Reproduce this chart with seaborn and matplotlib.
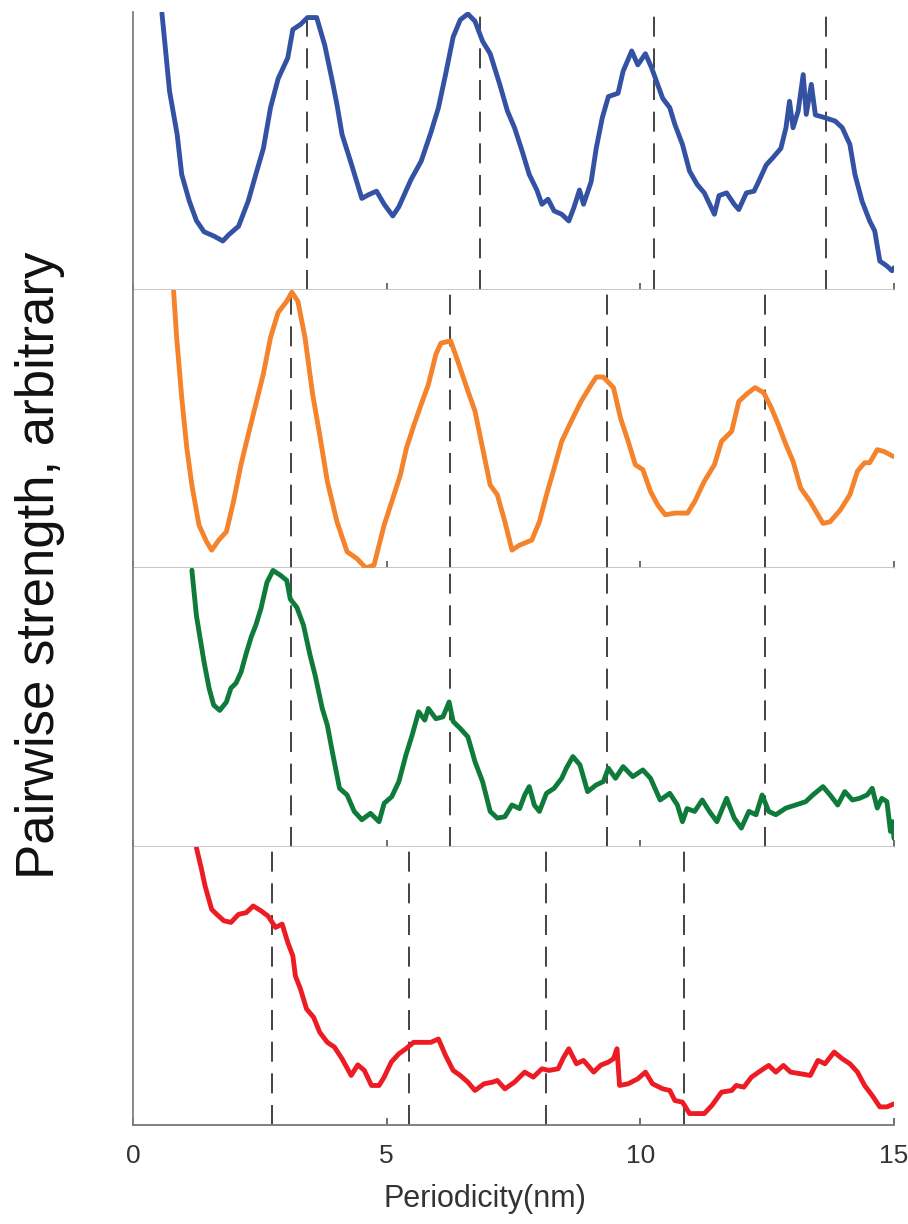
import matplotlib
matplotlib.use("Agg")
import matplotlib.pyplot as plt
import seaborn as sns
import pandas as pd

# --- Data (y in arbitrary units, 0-100 per panel) ---
blue_x = [0.57, 0.72, 0.87, 0.96, 1.11, 1.25, 1.40, 1.59, 1.77, 1.89, 2.08, 2.27, 2.42, 2.57,
          2.71, 2.86, 3.05, 3.15, 3.30, 3.44, 3.62, 3.78, 3.93, 4.02, 4.12, 4.31, 4.51, 4.65,
          4.80, 4.95, 5.12, 5.24, 5.48, 5.68, 5.87, 6.02, 6.16, 6.31, 6.45, 6.60, 6.74, 6.89,
          7.04, 7.23, 7.38, 7.52, 7.67, 7.81, 7.96, 8.06, 8.18, 8.30, 8.45, 8.59, 8.69, 8.80,
          8.88, 9.03, 9.13, 9.25, 9.37, 9.56, 9.66, 9.83, 9.95, 10.10, 10.22, 10.34, 10.44,
          10.58, 10.68, 10.83, 10.97, 11.12, 11.26, 11.46, 11.55, 11.70, 11.85, 11.94, 12.09,
          12.24, 12.33, 12.48, 12.62, 12.77, 12.87, 12.94, 13.01, 13.11, 13.21, 13.27, 13.37,
          13.45, 13.64, 13.84, 13.98, 14.13, 14.23, 14.37, 14.52, 14.62, 14.72, 14.86, 14.96, 15.0]
blue_y = [99.6, 71.5, 56, 41.6, 32, 25, 21, 19.5, 17.7, 20, 23, 32, 41.6, 51,
          65.6, 76, 83.5, 93.7, 95.5, 98, 98, 88, 75, 66.7, 56, 45, 33, 34.4,
          35.6, 30.9, 26.7, 30, 39.8, 46.4, 56.6, 65.6, 77.5, 91, 97.2, 99.3, 96.7, 89.5,
          85, 73.9, 64.4, 58.4, 50, 41.6, 36, 30.9, 32.7, 28.5, 27.3, 24.9, 29.7, 36,
          30.9, 39, 51, 62, 69.6, 70.8, 78.7, 86, 81, 85, 80, 74, 69,
          65.6, 59.6, 52.4, 42.8, 38, 35, 27.3, 34, 35, 30.9, 29, 35,
          35.6, 39, 45, 47.8, 51, 58.4, 67.9, 58.4, 64.4, 77.5, 63.2, 74,
          63, 62, 60.8, 58.4, 52.4, 41.6, 32, 24.9, 21.3, 10.5, 8.7, 7, 8.1]

orange_x = [0.80, 0.86, 0.96, 1.06, 1.16, 1.30, 1.45, 1.55, 1.69, 1.84, 1.98, 2.13, 2.27, 2.42,
            2.57, 2.71, 2.86, 3.03, 3.13, 3.25, 3.39, 3.54, 3.68, 3.83, 4.02, 4.22, 4.41, 4.59,
            4.75, 4.95, 5.10, 5.27, 5.39, 5.54, 5.68, 5.82, 5.97, 6.07, 6.26, 6.40, 6.60, 6.74,
            6.89, 7.04, 7.18, 7.33, 7.47, 7.62, 7.86, 8.01, 8.15, 8.30, 8.45, 8.64, 8.83, 9.03,
            9.13, 9.27, 9.47, 9.61, 9.76, 9.90, 10.05, 10.20, 10.34, 10.49, 10.68, 10.93, 11.07,
            11.26, 11.46, 11.60, 11.80, 11.94, 12.09, 12.26, 12.43, 12.58, 12.72, 12.87, 13.01,
            13.16, 13.35, 13.50, 13.60, 13.74, 13.94, 14.13, 14.28, 14.42, 14.52, 14.67, 14.81, 14.98]
orange_y = [99.6, 83, 61.4, 43.3, 30, 15.6, 9.6, 6.6, 10.2, 13.2, 24, 37.5, 48, 59,
            70, 83, 92, 96, 99.3, 96, 83, 62.6, 48, 31.3, 16.8, 6, 3.6, 0.2,
            1.2, 15.6, 24, 33.7, 43.3, 51.7, 59, 66, 77, 81, 81.8, 74.6, 63.8, 56.6,
            43.3, 30, 26.5, 16.8, 6.6, 8.4, 10.2, 16.8, 26.5, 36, 45.7, 53, 60, 66,
            68.8, 68.8, 65, 54, 45.7, 37.3, 35.5, 27.7, 22.9, 19.3, 19.9, 19.9, 24,
            31.3, 37.3, 45.7, 49.3, 60, 62.6, 65, 63.2, 57.8, 51.7, 44.5, 38.5,
            28.9, 24, 19.3, 16.2, 16.8, 21, 26.5, 35, 38, 38, 42.7, 42, 40.3]

green_x = [1.16, 1.25, 1.40, 1.50, 1.59, 1.71, 1.84, 1.93, 2.03, 2.13, 2.23, 2.33, 2.42, 2.52,
           2.64, 2.76, 2.91, 3.03, 3.10, 3.23, 3.36, 3.49, 3.59, 3.73, 3.83, 3.93, 4.07, 4.22,
           4.36, 4.51, 4.68, 4.85, 4.95, 5.10, 5.24, 5.38, 5.50, 5.63, 5.75, 5.82, 5.97, 6.11,
           6.23, 6.31, 6.45, 6.60, 6.74, 6.89, 7.04, 7.18, 7.33, 7.47, 7.62, 7.72, 7.81, 7.91,
           8.01, 8.15, 8.30, 8.45, 8.54, 8.67, 8.81, 8.96, 9.13, 9.27, 9.37, 9.51, 9.66, 9.85,
           10.05, 10.20, 10.39, 10.58, 10.73, 10.83, 10.92, 11.07, 11.22, 11.36, 11.51, 11.70,
           11.85, 11.99, 12.14, 12.28, 12.40, 12.53, 12.67, 12.87, 13.06, 13.26, 13.40, 13.60,
           13.74, 13.89, 14.03, 14.18, 14.32, 14.47, 14.57, 14.67, 14.76, 14.86, 14.93, 14.97, 15.0]
green_y = [99.4, 83, 66.4, 56.9, 50.9, 49, 52, 57, 58.8, 62.8, 69.4, 75.4, 79.6, 85.5,
           95, 99.3, 97.5, 95.7, 89, 86, 79.6, 68.8, 61.6, 49.7, 43.7, 34, 21, 18.6,
           12.7, 9.7, 12, 9, 15.6, 18, 23.4, 33, 40, 48.5, 45.5, 49.7, 46, 46.7,
           52, 45, 42.5, 39.5, 30.6, 23.4, 12.7, 10.3, 10.8, 15, 13.7, 18.6, 21.6, 15,
           12.7, 19.2, 21, 24.6, 28.2, 32.4, 29.4, 19.8, 22.2, 23.4, 28.2, 24.6, 28.8, 25.2,
           27.6, 24.6, 16.8, 19.2, 15, 9, 13.7, 12.7, 16.8, 12.7, 9, 17.4,
           10.3, 6.7, 12.7, 11.5, 18.6, 12.7, 11.5, 13.9, 15, 16.2, 18.6, 21.6,
           18.6, 15, 19.8, 16.8, 17.4, 18.6, 21, 13.9, 17.4, 16.2, 5.5, 9, 3]

red_x = [1.25, 1.35, 1.42, 1.55, 1.65, 1.79, 1.93, 2.08, 2.23, 2.37, 2.52, 2.66, 2.81, 2.94,
         3.05, 3.15, 3.20, 3.30, 3.42, 3.56, 3.68, 3.83, 3.97, 4.12, 4.30, 4.43, 4.56, 4.70,
         4.85, 4.95, 5.09, 5.24, 5.38, 5.53, 5.68, 5.87, 6.02, 6.16, 6.31, 6.45, 6.60, 6.74,
         6.92, 7.09, 7.18, 7.33, 7.52, 7.72, 7.89, 8.06, 8.20, 8.38, 8.49, 8.59, 8.74, 8.88,
         9.08, 9.22, 9.37, 9.47, 9.54, 9.59, 9.76, 9.95, 10.10, 10.24, 10.44, 10.58, 10.68,
         10.83, 10.97, 11.12, 11.26, 11.41, 11.60, 11.80, 11.89, 12.04, 12.19, 12.38, 12.53,
         12.67, 12.82, 12.96, 13.16, 13.35, 13.50, 13.64, 13.82, 13.98, 14.13, 14.28, 14.42,
         14.57, 14.72, 14.86, 15.0]
red_y = [99.6, 91.9, 85.9, 77.5, 75.7, 73.4, 72.8, 75.7, 76.3, 78.7, 77, 75.1, 71, 72.2,
         65.6, 60.8, 53.6, 48.9, 41.7, 38.7, 33.3, 29.7, 28, 23.8, 17.8, 21.6, 19.6, 14.2,
         14.2, 17.2, 22.6, 25.6, 27.4, 29.7, 29.7, 29.7, 30.9, 25, 19.6, 17.8, 15.4, 12.4,
         14.8, 15.4, 16, 13, 15.4, 19, 17.2, 20.2, 19.6, 20.2, 24.4, 27.4, 22, 23.2,
         19, 21.5, 22.6, 23.8, 27.4, 14.2, 14.8, 16.6, 19, 14.8, 13, 12.4, 8.8,
         8.2, 4.1, 4.1, 4.1, 7, 11.8, 12.4, 14.2, 13.6, 17.2, 19.6, 21.4,
         19, 21.4, 19, 18.4, 17.8, 23.2, 22, 26.2, 23.8, 22, 19, 14.2,
         10.6, 6.5, 6.5, 7.6]

# dashed reference lines (periodicity harmonics) per panel
blue_peaks = [3.42, 6.84, 10.26, 13.66]
orange_peaks = [3.12, 6.24, 9.34, 12.46]
green_peaks = [3.12, 6.24, 9.34, 12.46]
red_peaks = [2.73, 5.44, 8.15, 10.86]

x_ticks = [0, 5, 10, 15]
x_tick_labels = ["0", "5", "10", "15"]

panels = [
    (blue_x, blue_y, "#3452a4", blue_peaks),
    (orange_x, orange_y, "#f5832b", orange_peaks),
    (green_x, green_y, "#0e7b3b", green_peaks),
    (red_x, red_y, "#ed1c24", red_peaks),
]

# --- Style ---
sns.set_theme(style="white")
plt.rcParams['font.family'] = ['Liberation Sans', 'DejaVu Sans']

fig, axes = plt.subplots(4, 1, figsize=(9.08, 12.24), dpi=100, sharex=True)
fig.subplots_adjust(left=0.1465, right=0.9846, top=0.9902, bottom=0.0809, hspace=0)

for i, (ax, (xs, ys, color, peaks)) in enumerate(zip(axes, panels)):
    df = pd.DataFrame({"x": xs, "y": ys})
    for p in peaks:
        ax.axvline(p, color="#222222", lw=1.2, dashes=(12, 7), zorder=1)
    sns.lineplot(data=df, x="x", y="y", ax=ax, color=color, lw=3.5,
                 estimator=None, sort=False, zorder=3)
    ax.set_xlim(0, 15)
    ax.set_ylim(0, 100)
    ax.set_yticks([])
    ax.set_ylabel("")
    ax.set_xlabel("")
    for side in ["top", "right"]:
        ax.spines[side].set_visible(False)
    ax.spines["left"].set_color("#808080")
    ax.spines["left"].set_linewidth(1.3)
    last = i == len(axes) - 1
    ax.spines["bottom"].set_color("#777777" if last else "#c0c0c0")
    ax.spines["bottom"].set_linewidth(1.3)
    ax.set_xticks(x_ticks)
    ax.tick_params(axis="x", direction="in", length=5, width=1.2,
                   color="#555555", bottom=True, pad=14,
                   labelbottom=last, labelsize=19, labelcolor="#333333")

axes[-1].set_xticklabels(x_tick_labels)
axes[-1].set_xlabel("Periodicity(nm)", fontsize=22, color="#333333", labelpad=11)
axes[-1].xaxis.label.set_x(0.463)

fig.text(40 / 908, 0.538, "Pairwise strength, arbitrary", rotation=90,
         ha="center", va="center", fontsize=38, color="#111111")

fig.savefig("out.png", dpi=100)
